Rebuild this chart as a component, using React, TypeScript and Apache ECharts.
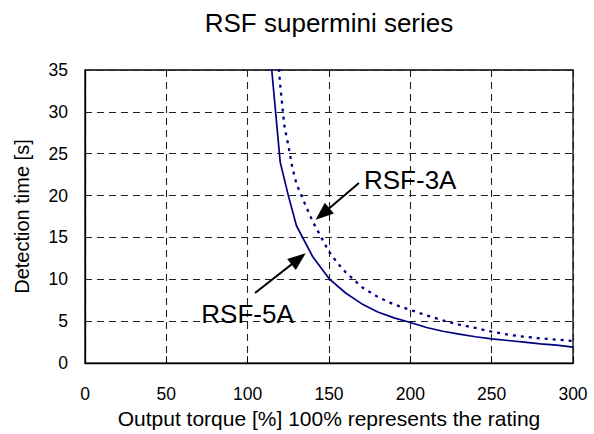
import React, { useEffect, useRef } from "react";
import * as echarts from "echarts";

const titleText = "RSF supermini series";
const xName = "Output torque [%] 100% represents the rating";
const yName = "Detection time [s]";

const torque5A = [114, 120, 125, 130, 140, 150, 160, 170, 180, 190, 200, 210, 220, 230, 240, 250, 260, 270, 280, 290, 300];
const time5A = [36.7, 24, 20, 16.4, 12.7, 10.1, 8.4, 7.1, 6.1, 5.4, 4.85, 4.25, 3.8, 3.45, 3.15, 2.9, 2.7, 2.5, 2.3, 2.15, 1.9];

const torque3A = [118, 120, 122.5, 125, 127.5, 130, 135, 140, 150, 155, 160, 165, 170, 180, 190, 200, 210, 220, 230, 240, 250, 260, 270, 280, 290, 300];
const time3A = [38, 33.2, 28.4, 26, 23.3, 21.4, 19.1, 16.9, 13.3, 12.0, 10.9, 10.0, 9.1, 7.9, 7.0, 6.35, 5.7, 5.1, 4.6, 4.2, 3.75, 3.4, 3.15, 2.95, 2.8, 2.65];

const labels = ["RSF-3A", "RSF-5A"];
const labelPos = [[171.5, 21.85], [71.5, 5.9]];
const arrowTail = [[168.4, 21.5], [104.5, 8.37]];
const arrowHead = [[146.0, 17.8], [131.3, 12.45]];

const FONT = "'Liberation Sans', Arial, sans-serif";

export default function App() {
  const ref = useRef<HTMLDivElement>(null);
  useEffect(() => {
    if (!ref.current) return;
    const chart = echarts.init(ref.current, undefined, { renderer: "svg" });
    const s5 = torque5A.map((x, i) => [x, time5A[i]]);
    const s3 = torque3A.map((x, i) => [x, time3A[i]]);
    chart.setOption({
      animation: false,
      textStyle: { fontFamily: FONT },
      title: {
        text: titleText,
        left: 329,
        top: 10,
        textAlign: "center",
        padding: 0,
        textStyle: { fontFamily: FONT, fontSize: 26, fontWeight: "normal", color: "#000" },
      },
      grid: {
        left: 85,
        right: 21,
        top: 70,
        bottom: 66,
        show: true,
        borderColor: "#000",
        borderWidth: 1.3,
        backgroundColor: "transparent",
      },
      xAxis: {
        type: "value",
        min: 0,
        max: 300,
        interval: 50,
        name: xName,
        nameLocation: "middle",
        nameGap: 40,
        nameTextStyle: { fontFamily: FONT, fontSize: 21, color: "#000" },
        axisLine: { show: true, lineStyle: { color: "#000", width: 1.3 } },
        axisTick: { show: true, inside: true, length: 7, lineStyle: { color: "#000" } },
        axisLabel: { fontFamily: FONT, fontSize: 17.5, color: "#000", margin: 22 },
        splitLine: { show: true, lineStyle: { color: "#222", width: 1.1, type: [7, 5] } },
      },
      yAxis: {
        type: "value",
        min: 0,
        max: 35,
        interval: 5,
        name: yName,
        nameLocation: "middle",
        nameRotate: 90,
        nameGap: 53,
        nameTextStyle: { fontFamily: FONT, fontSize: 20, color: "#000" },
        axisLine: { show: true, lineStyle: { color: "#000", width: 1.3 } },
        axisTick: { show: false },
        axisLabel: { fontFamily: FONT, fontSize: 17.5, color: "#000", margin: 17 },
        splitLine: { show: true, lineStyle: { color: "#222", width: 1.1, type: [7, 5] } },
      },
      series: [
        {
          name: "RSF-5A",
          type: "line",
          data: s5,
          showSymbol: false,
          symbol: "none",
          clip: true,
          lineStyle: { color: "#000080", width: 1.7 },
          markLine: {
            silent: true,
            symbol: ["none", "triangle"],
            symbolSize: [14, 18],
            label: { show: false },
            lineStyle: { color: "#000", width: 2, type: "solid" },
            data: arrowTail.map((t, i) => [
              { coord: t },
              { coord: arrowHead[i] },
            ]),
          },
          markPoint: {
            silent: true,
            symbol: "circle",
            symbolSize: 0,
            label: {
              show: true,
              position: "right",
              distance: 0,
              formatter: "{b}",
              fontFamily: FONT,
              fontSize: 26,
              color: "#000",
            },
            data: labels.map((l, i) => ({ name: l, coord: labelPos[i] })),
          },
        },
        {
          name: "RSF-3A",
          type: "line",
          data: s3,
          showSymbol: false,
          symbol: "none",
          clip: true,
          lineStyle: { color: "#000080", width: 2.3, type: [3, 5] },
        },
      ],
    });
    return () => chart.dispose();
  }, []);
  return (
    <div
      ref={ref}
      style={{ position: "fixed", left: 0, top: 0, width: 594, height: 434, background: "#fff" }}
    />
  );
}
